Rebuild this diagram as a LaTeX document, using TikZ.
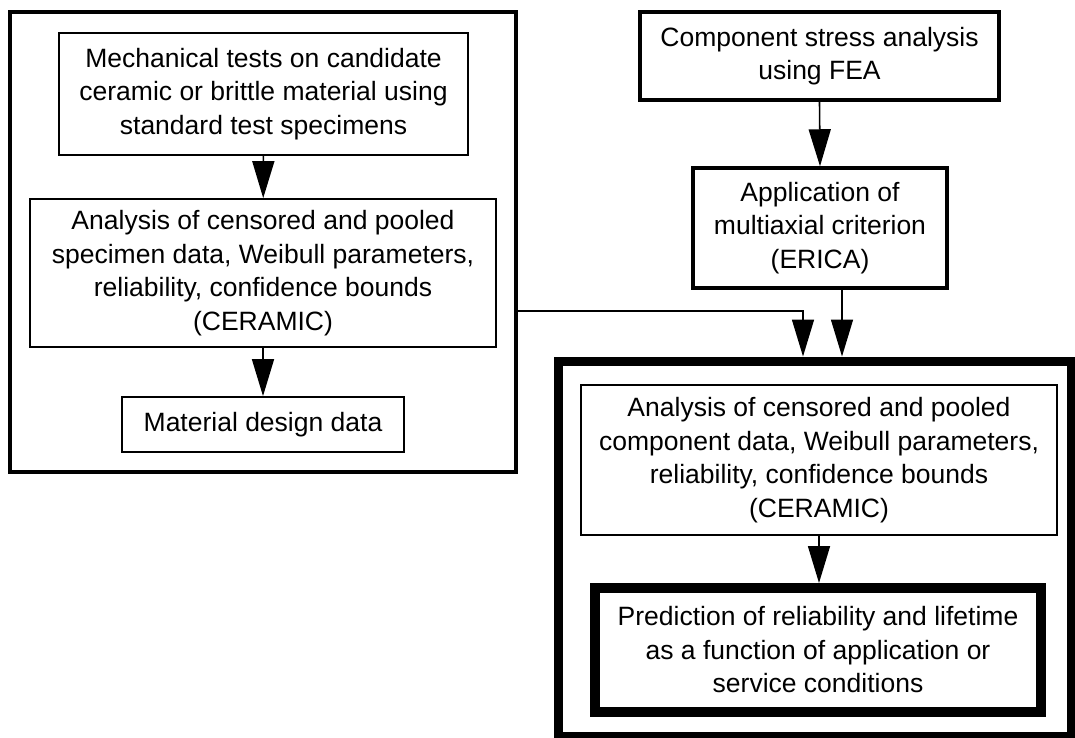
\documentclass[tikz,border=0pt]{standalone}
\usepackage{fontspec}
\setmainfont{Liberation Sans}
\usetikzlibrary{arrows.meta}
\tikzset{box/.style = {draw, line width=1.8pt, align=center, inner sep=0pt,
    font=\fontsize{26.5}{33.5}\selectfont}}
\tikzset{groupbox/.style = {draw, inner sep=0pt}}
\tikzset{flow/.style = {line width=1.6pt, -{Triangle[width=22pt, length=37pt]}}}

\begin{document}
\begin{tikzpicture}[x=1pt, y=-1pt]
\useasboundingbox (0,0) rectangle (1075,738);
% material side
\node [groupbox, line width=4.5pt, minimum width=506pt, minimum height=460pt] (matgroup) at (263,242) {};
\node [box, minimum width=409pt, minimum height=122pt] (mech) at (263.5,94)
  {Mechanical tests on candidate\\ ceramic or brittle material using\\ standard test specimens};
\node [box, minimum width=466pt, minimum height=148pt] (spec) at (263,273)
  {Analysis of censored and pooled\\ specimen data, Weibull parameters,\\ reliability, confidence bounds\\ (CERAMIC)};
\node [box, minimum width=282pt, minimum height=55pt] (design) at (263,424.5)
  {Material design data};
% component side
\node [box, line width=3.2pt, minimum width=359pt, minimum height=88pt] (stress) at (819.5,56)
  {Component stress analysis\\ using FEA};
\node [box, line width=3.5pt, minimum width=254pt, minimum height=120pt] (crit) at (820,228)
  {Application of\\ multiaxial criterion\\ (ERICA)};
\node [groupbox, line width=9pt, minimum width=513pt, minimum height=375pt] (compgroup) at (814.5,548.5) {};
\node [box, minimum width=476pt, minimum height=150pt] (comp) at (819,460)
  {Analysis of censored and pooled\\ component data, Weibull parameters,\\ reliability, confidence bounds\\ (CERAMIC)};
\node [box, line width=10pt, minimum width=446pt, minimum height=124pt] (pred) at (818,650)
  {Prediction of reliability and lifetime\\ as a function of application or\\ service conditions};
% arrows
\draw [flow] (mech) -- (spec);
\draw [flow] (spec) -- (design);
\draw [flow] (stress.south) -- (crit.north);
\draw [flow] ([xshift=22pt]crit.south) -- ([xshift=22pt]crit.south |- compgroup.north);
\draw [flow] (matgroup.east |- 0,311) -| ([xshift=-17pt]crit.south |- compgroup.north);
\draw [flow] (comp.south) -- (comp.south |- pred.north);
\end{tikzpicture}
\end{document}
